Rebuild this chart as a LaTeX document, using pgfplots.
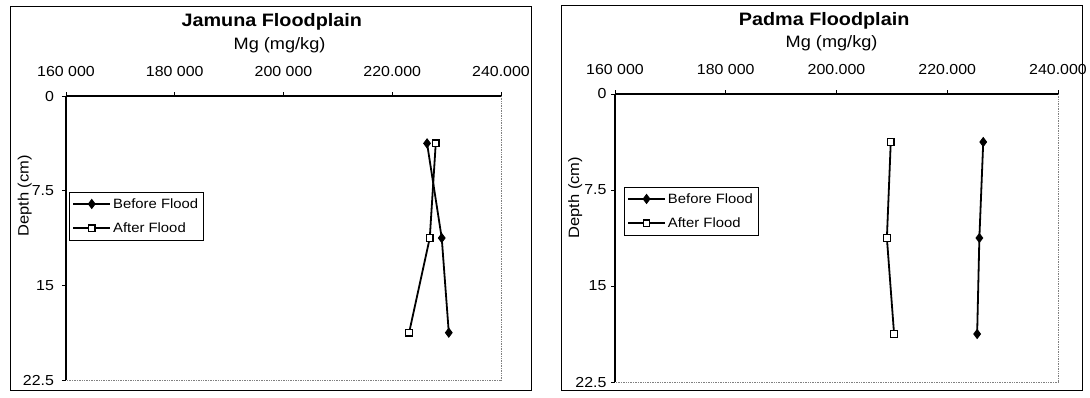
\documentclass[border=0pt]{standalone}
\usepackage{pgfplots}
\pgfplotsset{compat=1.18}
\usepackage{fontspec}
\setmainfont[FakeStretch=1.1]{Liberation Sans}

\pgfplotsset{
  every axis title shift=0pt,
  panel/.style={
    scale only axis,
    clip=false,
    xmin=160000, xmax=240000,
    ymin=0, ymax=22.5,
    y dir=reverse,
    axis x line*=top,
    axis y line*=left,
    scaled x ticks=false,
    xtick={160000,180000,200000,220000,240000},
    ytick={0,7.5,15,22.5},
    yticklabels={0,7.5,15,22.5},
    tick align=outside,
    major tick length=4pt,
    tick style={black, line width=0.9pt},
    axis line style={black, line width=1.3pt, -},
    ticklabel style={font=\fontsize{14.5}{16}\selectfont},
    xticklabel shift=11.5pt,
    title style={font=\fontsize{18}{20}\selectfont\bfseries, anchor=center},
    xlabel style={font=\fontsize{16.5}{18}\selectfont, anchor=center},
    ylabel style={font=\fontsize{15}{17}\selectfont, anchor=center},
    legend style={draw=black, line width=0.6pt, fill=white,
      font=\fontsize{13.5}{15}\selectfont, inner xsep=3pt, inner ysep=4pt,
      row sep=9pt, anchor=north west, cells={anchor=west}},
    legend image code/.code={\draw[mark repeat=2, mark phase=2, #1]
      plot coordinates {(0pt,0pt) (18.5pt,0pt) (37pt,0pt)};},
  },
  before/.style={black, line width=1.8pt, mark=diamond*, mark size=4.4pt,
    mark options={solid, fill=black, line width=1pt}},
  after/.style={black, line width=1.8pt, mark=square*, mark size=3.3pt,
    mark options={solid, fill=white, line width=1.2pt}},
}

\begin{document}
\begin{tikzpicture}
\useasboundingbox (0pt,0pt) rectangle (1090pt,-397pt);
\fill[white] (0pt,0pt) rectangle (1090pt,-397pt);
\draw[line width=0.8pt] (10pt,-6pt) rectangle (531pt,-390pt);
\draw[line width=0.8pt] (561pt,-5pt) rectangle (1082pt,-390pt);

% Jamuna
\begin{axis}[panel,
  at={(66pt,-96pt)}, anchor=north west,
  width=435pt, height=284pt,
  xticklabels={160 000,180 000,200 000,220.000,240.000},
  yticklabel shift=4.5pt,
  title={Jamuna Floodplain},
  title style={at={(axis description cs:0.473,1.262)}},
  xlabel={Mg (mg/kg)},
  xlabel style={at={(axis description cs:0.491,1.18)}},
  ylabel={Depth (cm)},
  ylabel style={at={(axis description cs:-0.095,0.648)}},
  legend style={at={(axis description cs:0.007,0.662)}},
]
\draw[densely dotted, gray, line width=0.7pt] (axis description cs:1,1) -- (axis description cs:1,0) -- (axis description cs:0,0);
\draw[black, line width=1.3pt] (axis description cs:0,1) -- (axis description cs:1,1);
\draw[black, line width=1.3pt] (axis description cs:0,1) -- (axis description cs:0,0);
\addplot[before] coordinates {(226400,3.75) (229100,11.25) (230400,18.75)};
\addlegendentry{Before Flood}
\addplot[after] coordinates {(228000,3.75) (226900,11.25) (223100,18.75)};
\addlegendentry{After Flood}
\end{axis}

% Padma
\begin{axis}[panel,
  at={(615pt,-94pt)}, anchor=north west,
  width=443pt, height=288pt,
  xticklabels={160 000,180 000,200.000,220.000,240.000},
  yticklabel shift=1pt,
  title={Padma Floodplain},
  title style={at={(axis description cs:0.472,1.255)}},
  xlabel={Mg (mg/kg)},
  xlabel style={at={(axis description cs:0.489,1.177)}},
  ylabel={Depth (cm)},
  ylabel style={at={(axis description cs:-0.09,0.64)}},
  legend style={at={(axis description cs:0.02,0.677)}},
]
\draw[densely dotted, gray, line width=0.7pt] (axis description cs:1,1) -- (axis description cs:1,0) -- (axis description cs:0,0);
\draw[black, line width=1.3pt] (axis description cs:0,1) -- (axis description cs:1,1);
\draw[black, line width=1.3pt] (axis description cs:0,1) -- (axis description cs:0,0);
\addplot[before] coordinates {(226500,3.75) (225800,11.25) (225400,18.75)};
\addlegendentry{Before Flood}
\addplot[after] coordinates {(209800,3.75) (209100,11.25) (210400,18.75)};
\addlegendentry{After Flood}
\end{axis}
\end{tikzpicture}
\end{document}
